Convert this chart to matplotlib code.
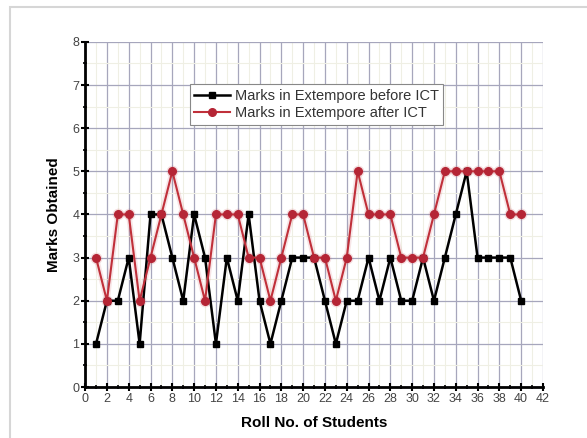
import matplotlib
matplotlib.use('Agg')
import matplotlib.pyplot as plt
from matplotlib.ticker import MultipleLocator
from matplotlib.patches import Rectangle

plt.rcParams['font.family'] = ['Liberation Sans', 'DejaVu Sans']

# roll numbers and marks
roll_no = list(range(1, 41))
before_ict = [1, 2, 2, 3, 1, 4, 4, 3, 2, 4,
              3, 1, 3, 2, 4, 2, 1, 2, 3, 3,
              3, 2, 1, 2, 2, 3, 2, 3, 2, 2,
              3, 2, 3, 4, 5, 3, 3, 3, 3, 2]
after_ict = [3, 2, 4, 4, 2, 3, 4, 5, 4, 3,
             2, 4, 4, 4, 3, 3, 2, 3, 4, 4,
             3, 3, 2, 3, 5, 4, 4, 4, 3, 3,
             3, 4, 5, 5, 5, 5, 5, 5, 4, 4]

fig = plt.figure(figsize=(5.87, 4.38), dpi=100)
ax = fig.add_axes([0.145, 0.1164, 0.78, 0.788])

# light frame around the whole picture
fig.patches.append(Rectangle((10 / 587, -0.05), 1.2, (438 - 7) / 438 + 0.05,
                             transform=fig.transFigure, fill=False,
                             edgecolor='#d6d6d6', lw=1.5))

red = '#c0303a'
# soft halo under the red series
ax.plot(roll_no, after_ict, color=red, lw=4, alpha=0.12, zorder=3)
ax.plot(roll_no, after_ict, 'o', color=red, ms=8.5, alpha=0.15, mew=0, zorder=3)
ax.plot(roll_no, before_ict, color='black', lw=1.8, marker='s', ms=4.8,
        label='Marks in Extempore before ICT', zorder=4)
ax.plot(roll_no, after_ict, color=red, lw=1.5, marker='o', ms=5.5,
        mfc='#b52535', mec='#b52535',
        label='Marks in Extempore after ICT', zorder=5)

ax.set_xlim(0, 42)
ax.set_ylim(0, 8)
ax.xaxis.set_major_locator(MultipleLocator(2))
ax.xaxis.set_minor_locator(MultipleLocator(1))
ax.yaxis.set_major_locator(MultipleLocator(1))
ax.yaxis.set_minor_locator(MultipleLocator(0.5))

ax.grid(which='major', color='#a6a6bc', lw=0.9)
ax.grid(which='minor', color='#efefe4', lw=0.8)
ax.set_axisbelow(True)

for s in ['top', 'right']:
    ax.spines[s].set_visible(False)
for s in ['left', 'bottom']:
    ax.spines[s].set_linewidth(2)

ax.tick_params(which='major', direction='inout', length=6, width=1.5,
               labelsize=9, labelcolor='#444444', pad=1)
ax.tick_params(which='minor', direction='inout', length=3.5, width=1.2)

ax.set_xlabel('Roll No. of Students', fontsize=11, fontweight='bold', labelpad=8)
ax.set_ylabel('Marks Obtained', fontsize=11, fontweight='bold', labelpad=8)

leg = ax.legend(loc='upper left', bbox_to_anchor=(0.228, 0.877), fontsize=10.5,
                frameon=True, fancybox=False, edgecolor='#888888',
                framealpha=1, borderpad=0.3, handlelength=2.5,
                handletextpad=0.3, labelspacing=0.25, borderaxespad=0)
leg.get_frame().set_linewidth(0.8)
for t in leg.get_texts():
    t.set_color('#333333')

fig.savefig('out.png', dpi=100)
